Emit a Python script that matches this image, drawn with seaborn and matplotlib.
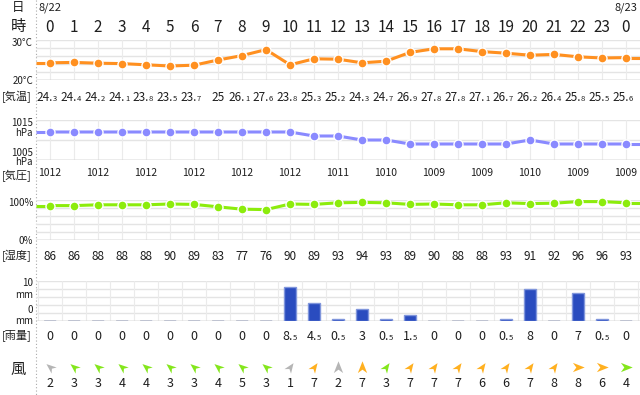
import numpy as np
import pandas as pd
import matplotlib
matplotlib.use("Agg")
import matplotlib.pyplot as plt
from matplotlib.path import Path
import seaborn as sns

# ---------------- data ----------------
hours = [0, 1, 2, 3, 4, 5, 6, 7, 8, 9, 10, 11, 12, 13, 14, 15, 16, 17, 18, 19, 20, 21, 22, 23, 0]
date_labels = ["8/22", "8/23"]
temp = [24.3, 24.4, 24.2, 24.1, 23.8, 23.5, 23.7, 25.0, 26.1, 27.6, 23.8, 25.3, 25.2,
        24.3, 24.7, 26.9, 27.8, 27.8, 27.1, 26.7, 26.2, 26.4, 25.8, 25.5, 25.6]
pressure = [1012, 1012, 1012, 1012, 1012, 1012, 1012, 1012, 1012, 1012, 1012, 1011, 1011,
            1010, 1010, 1009, 1009, 1009, 1009, 1009, 1010, 1009, 1009, 1009, 1009]
humidity = [86, 86, 88, 88, 88, 90, 89, 83, 77, 76, 90, 89, 93, 94, 93, 89, 90, 88, 88,
            93, 91, 92, 96, 96, 93]
rain = [0, 0, 0, 0, 0, 0, 0, 0, 0, 0, 8.5, 4.5, 0.5, 3, 0.5, 1.5, 0, 0, 0, 0.5, 8, 0, 7, 0.5, 0]
wind_speed = [2, 3, 3, 4, 4, 3, 3, 4, 5, 3, 1, 7, 2, 7, 3, 7, 7, 7, 6, 6, 7, 8, 8, 6, 4]
# direction the arrow points, degrees counter-clockwise from east
wind_dir = [140, 140, 140, 140, 140, 140, 140, 140, 140, 140, 55, 55, 90, 90, 55, 55, 55,
            55, 55, 55, 55, 55, 0, 0, 0]

row_labels = ["[気温]", "[気圧]", "[湿度]", "[雨量]"]

# ---------------- style ----------------
sns.set_theme(style="white")
plt.rcParams['font.family'] = ['Noto Sans CJK JP', 'DejaVu Sans']

C_TEMP = "#ff9020"
C_PRES = "#8a8aff"
C_HUM = "#8cec0c"
C_RAIN = "#2a4cbf"
C_RAIN_EDGE = "#8096dc"
C_TXT = "#1e1e1e"
C_GRID = "#e4e4e4"
C_BASE = "#b8b8b8"

W, H = 640, 395
fig = plt.figure(figsize=(W / 100, H / 100), dpi=100)
fig.patch.set_facecolor("white")

X0, DX = 50, 24
n = len(hours)
idx = np.arange(n)
XL = ((36 - X0) / DX, (640 - X0) / DX)


def xc(i):
    return X0 + DX * i


def add_ax(top, bottom, left=36, right=640):
    return fig.add_axes([left / W, 1 - bottom / H, (right - left) / W, (bottom - top) / H])


# overlay for text (pixel coords)
ov = fig.add_axes([0, 0, 1, 1], zorder=0)
ov.set_xlim(0, W)
ov.set_ylim(H, 0)
ov.axis("off")
ov.plot([36, 36], [0, H], color="#aaaaaa", lw=0.8, ls=(0, (1, 2)))


def panel(top, bottom, ylo, yhi, grid, voff=0.0, vlist=None):
    ax = add_ax(top, bottom)
    ax.set_xlim(*XL)
    ax.set_ylim(ylo, yhi)
    ax.patch.set_visible(False)
    for s in ax.spines.values():
        s.set_visible(False)
    for y in grid:
        ax.axhline(y, color=C_GRID, lw=1, zorder=0)
    ax.axhline(ylo, color=C_BASE, lw=1, zorder=0.5)
    vl = vlist if vlist is not None else idx + voff
    for v in vl:
        ax.axvline(v, color="#ebebeb", lw=0.8, zorder=0)
    return ax


def finish(ax, ylo, yhi):
    ax.set_xlim(*XL)
    ax.set_ylim(ylo, yhi)
    ax.set_xticks([])
    ax.set_yticks([])
    ax.set_xlabel("")
    ax.set_ylabel("")
    if ax.get_legend():
        ax.get_legend().remove()


def line_series(ax, vals, color):
    df = pd.DataFrame({"i": idx, "v": vals})
    ax.plot([XL[0], 0], [vals[0], vals[0]], color=color, lw=2.2, zorder=2,
            solid_capstyle="butt")
    ax.plot([n - 1, XL[1]], [vals[-1], vals[-1]], color=color, lw=2.2, zorder=2,
            solid_capstyle="butt")
    sns.lineplot(data=df, x="i", y="v", ax=ax, color=color, lw=2.2, marker="o",
                 markersize=6.5, markeredgecolor="white", markeredgewidth=1.0,
                 zorder=3, clip_on=False)


# temperature
axT = panel(40, 80, 20, 30, np.arange(20, 31, 2))
line_series(axT, temp, C_TEMP)
finish(axT, 20, 30)

# pressure
axP = panel(120, 160, 1005, 1015, [1005, 1010, 1015])
line_series(axP, pressure, C_PRES)
finish(axP, 1005, 1015)

# humidity
axH = panel(200, 240, 0, 100, np.arange(0, 101, 20))
line_series(axH, humidity, C_HUM)
finish(axH, 0, 100)

# rain
axR = panel(281, 321, 0, 10, np.arange(0, 11, 2), vlist=np.arange(-1, n) + 0.5)
rdf = pd.DataFrame({"i": idx, "r": rain,
                    "zero": [0.2 if r == 0 else 0 for r in rain]})
sns.barplot(data=rdf, x="i", y="zero", ax=axR, color="#cfcfcf", width=0.5,
            saturation=1, native_scale=True, linewidth=0, zorder=2)
sns.barplot(data=rdf, x="i", y="r", ax=axR, color=C_RAIN, width=0.5, saturation=1,
            native_scale=True, edgecolor=C_RAIN_EDGE, linewidth=1, zorder=3)
finish(axR, 0, 10)

# wind arrows
axW = add_ax(358, 376)
axW.set_xlim(*XL)
axW.set_ylim(0, 1)
axW.axis("off")
base = np.array([[1.0, 0.0], [-0.9, 0.75], [-0.35, 0.0], [-0.9, -0.75], [1.0, 0.0]])
codes = [Path.MOVETO, Path.LINETO, Path.LINETO, Path.LINETO, Path.CLOSEPOLY]


def wind_color(s):
    if s <= 2:
        return "#b5b5b5"
    if s <= 5:
        return "#84e61c"
    return "#ffb020"


for i, (s, d) in enumerate(zip(wind_speed, wind_dir)):
    a = np.deg2rad(d)
    rot = np.array([[np.cos(a), -np.sin(a)], [np.sin(a), np.cos(a)]])
    verts = base @ rot.T
    axW.scatter([i], [0.5], marker=Path(verts, codes), s=80, color=wind_color(s),
                linewidths=0)

# ---------------- text ----------------
ov.text(18, 8, "日", ha="center", va="center", fontsize=9, color=C_TXT)
ov.text(xc(0), 8, date_labels[0], ha="center", va="center", fontsize=8, color=C_TXT)
ov.text(xc(n - 1), 8, date_labels[1], ha="center", va="center", fontsize=8, color=C_TXT)
ov.text(18, 27, "時", ha="center", va="center", fontsize=11, color=C_TXT)
for i, h in enumerate(hours):
    ov.text(xc(i), 27.5, str(h), ha="center", va="center", fontsize=11, color=C_TXT)


def split_val(ax_x, y, v, big, small):
    if float(v).is_integer():
        ov.text(ax_x, y, f"{int(v)}", ha="center", va="baseline", fontsize=big, color=C_TXT)
    else:
        s = f"{v:.1f}"
        main, dec = s.split(".")
        ov.text(ax_x + 3, y, main + ".", ha="right", va="baseline", fontsize=big, color=C_TXT)
        ov.text(ax_x + 3, y, dec, ha="left", va="baseline", fontsize=small, color=C_TXT)


# left labels
lab = dict(ha="right", va="center", fontsize=7, color=C_TXT)
ov.text(33, 43.5, "30°C", **lab)
ov.text(33, 80.5, "20°C", **lab)
ov.text(33, 123.5, "1015", **lab)
ov.text(33, 133.5, "hPa", **lab)
ov.text(33, 152.5, "1005", **lab)
ov.text(33, 162, "hPa", **lab)
ov.text(33, 203, "100%", **lab)
ov.text(33, 241, "0%", **lab)
ov.text(33, 283.5, "10", **lab)
ov.text(33, 294.5, "mm", **lab)
ov.text(33, 310, "0", **lab)
ov.text(33, 321.5, "mm", **lab)
for y, t in zip([97, 176, 256, 335], row_labels):
    ov.text(17, y, t, ha="center", va="center", fontsize=8, color=C_TXT)
ov.text(18, 369, "風", ha="center", va="center", fontsize=11, color=C_TXT)

for i in range(n):
    split_val(xc(i), 101, temp[i], 8.5, 5.5)
    if i % 2 == 0:
        ov.text(xc(i), 172.5, str(pressure[i]), ha="center", va="center", fontsize=7.5,
                color=C_TXT)
    ov.text(xc(i), 256, str(humidity[i]), ha="center", va="center", fontsize=8.5,
            color=C_TXT)
    split_val(xc(i), 339.5, rain[i], 9, 5.5)
    ov.text(xc(i), 383.5, str(wind_speed[i]), ha="center", va="center", fontsize=9,
            color=C_TXT)

fig.savefig("out.png", dpi=100, facecolor="white")
